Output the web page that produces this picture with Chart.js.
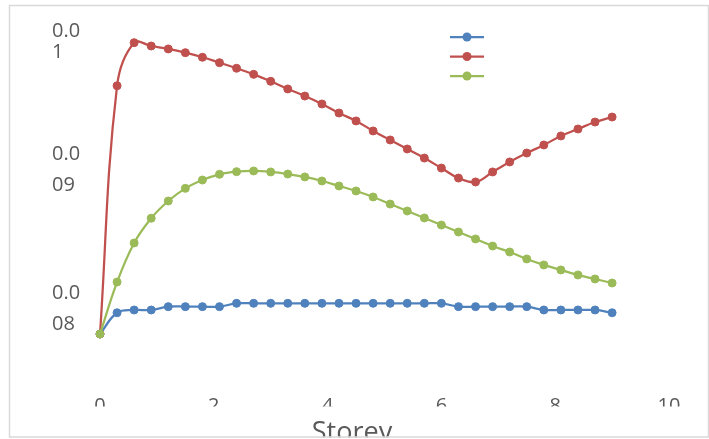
<!DOCTYPE html>
<html>
<head>
<meta charset="utf-8">
<script src="https://cdn.jsdelivr.net/npm/chart.js@4.4.0/dist/chart.umd.min.js"></script>
<style>
  html, body { margin: 0; padding: 0; background: #fff; }
  #wrap { width: 709px; height: 439px; }
</style>
</head>
<body>
<div id="wrap"><canvas id="chart" width="709" height="439"></canvas></div>
<script>
// storey positions along the x axis
const storey = [0, 0.3, 0.6, 0.9, 1.2, 1.5, 1.8, 2.1, 2.4, 2.7, 3.0, 3.3, 3.6, 3.9, 4.2, 4.5,
                4.8, 5.1, 5.4, 5.7, 6.0, 6.3, 6.6, 6.9, 7.2, 7.5, 7.8, 8.1, 8.4, 8.7, 9.0];

const seriesBlue = [0.00782, 0.007973, 0.007993, 0.007993, 0.008017, 0.008017, 0.008017, 0.008017,
                    0.008041, 0.008041, 0.008041, 0.008041, 0.008041, 0.008041, 0.008041, 0.008041,
                    0.008041, 0.008041, 0.008041, 0.008041, 0.008041, 0.008017, 0.008017, 0.008017,
                    0.008017, 0.008017, 0.007993, 0.007993, 0.007993, 0.007993, 0.007973];

const seriesRed = [0.00782, 0.009606, 0.009916, 0.009892, 0.009871, 0.009844, 0.009811, 0.009772,
                   0.009732, 0.009688, 0.009638, 0.009583, 0.009532, 0.009475, 0.00941, 0.009353,
                   0.009281, 0.009216, 0.009151, 0.009086, 0.009014, 0.008942, 0.008914, 0.008986,
                   0.009058, 0.009122, 0.00918, 0.009245, 0.009295, 0.009345, 0.009381];

const seriesGreen = [0.00782, 0.008194, 0.008475, 0.008653, 0.008777, 0.008868, 0.008928, 0.008969,
                     0.008988, 0.008993, 0.008986, 0.008971, 0.00895, 0.008921, 0.008885, 0.008849,
                     0.008806, 0.008755, 0.008705, 0.008655, 0.008604, 0.008554, 0.008504, 0.008453,
                     0.00841, 0.00836, 0.008317, 0.008281, 0.008245, 0.008216, 0.008187];

const seriesNames = ['', '', ''];   // legend shows no text
const seriesColors = ['#4F81BD', '#C0504D', '#9BBB59'];

const yTickValues = [0.008, 0.009, 0.01];
const yTickLabels = [['0.0', '08'], ['0.0', '09'], ['', '0.0', '1']];
const xTickValues = [0, 2, 4, 6, 8, 10];
const xTitle = 'Storey';

const FONT = 'Open Sans';
const TEXT = '#595959';

function toPoints(ys) {
  return storey.map((x, i) => ({ x: x, y: ys[i] }));
}

function dataset(label, ys, color, order) {
  return {
    label: label,
    data: toPoints(ys),
    borderColor: color,
    backgroundColor: color,
    pointBackgroundColor: color,
    pointBorderColor: color,
    borderWidth: 2.25,
    pointRadius: 4,
    pointBorderWidth: 1,
    tension: 0.4,
    clip: false,
    order: order,
  };
}

// frame, clipped axis text, axis title and the text-less legend
const decor = {
  id: 'decor',
  afterDraw(chart) {
    const ctx = chart.ctx;
    ctx.save();
    // lower half of the x tick labels is cut off in the original
    ctx.fillStyle = '#fff';
    ctx.fillRect(80, 406.5, 620, 13);

    ctx.fillStyle = TEXT;
    ctx.font = '27px "' + FONT + '"';
    ctx.textAlign = 'center';
    ctx.textBaseline = 'alphabetic';
    ctx.fillText(xTitle, 352, 441);

    ctx.fillStyle = '#fff';
    ctx.fillRect(0, 437.5, 709, 2);
    ctx.strokeStyle = '#D9D9D9';
    ctx.lineWidth = 1.5;
    ctx.strokeRect(9.5, 5.5, 699, 431.5);

    // legend
    seriesColors.forEach((c, i) => {
      const y = 37 + i * 19.5;
      ctx.strokeStyle = c;
      ctx.lineWidth = 2.25;
      ctx.beginPath();
      ctx.moveTo(450, y);
      ctx.lineTo(484, y);
      ctx.stroke();
      ctx.fillStyle = c;
      ctx.beginPath();
      ctx.arc(467, y, 4.5, 0, Math.PI * 2);
      ctx.fill();
      ctx.fillStyle = TEXT;
      ctx.font = '16px "' + FONT + '"';
      ctx.textAlign = 'left';
      ctx.textBaseline = 'middle';
      ctx.fillText(seriesNames[i], 492, y);
    });
    ctx.restore();
  }
};

new Chart(document.getElementById('chart'), {
  type: 'line',
  data: {
    datasets: [
      dataset(seriesNames[0], seriesBlue, seriesColors[0], 2),
      dataset(seriesNames[1], seriesRed, seriesColors[1], 1),
      dataset(seriesNames[2], seriesGreen, seriesColors[2], 0),
    ],
  },
  options: {
    responsive: false,
    devicePixelRatio: 1,
    animation: false,
    layout: { padding: { left: 52, top: 31, right: 40, bottom: 0 } },
    plugins: { legend: { display: false }, tooltip: { enabled: false } },
    scales: {
      x: {
        type: 'linear',
        min: 0,
        max: 10,
        grid: { display: false, drawTicks: false },
        border: { display: false },
        afterBuildTicks: (s) => { s.ticks = xTickValues.map((v) => ({ value: v })); },
        afterFit: (s) => { s.height = 49; s.paddingLeft = 0; s.paddingRight = 0; },
        ticks: {
          color: TEXT,
          padding: 4,
          maxRotation: 0,
          font: { family: FONT, size: 20 },
          callback: (v) => String(v),
        },
      },
      y: {
        min: 0.0074173,
        max: 0.01,
        grid: { display: false, drawTicks: false },
        border: { display: false },
        afterBuildTicks: (s) => { s.ticks = yTickValues.map((v) => ({ value: v })); },
        afterFit: (s) => { s.width = 48; s.paddingTop = 0; s.paddingBottom = 0; },
        ticks: {
          color: TEXT,
          crossAlign: 'far',
          font: (c) => ({
            family: FONT,
            size: 20,
            lineHeight: c.tick && c.tick.value === 0.01 ? 1.085 : 1.575,
          }),
          callback: (v) => yTickLabels[yTickValues.indexOf(v)],
        },
      },
    },
  },
  plugins: [decor],
});
</script>
</body>
</html>
